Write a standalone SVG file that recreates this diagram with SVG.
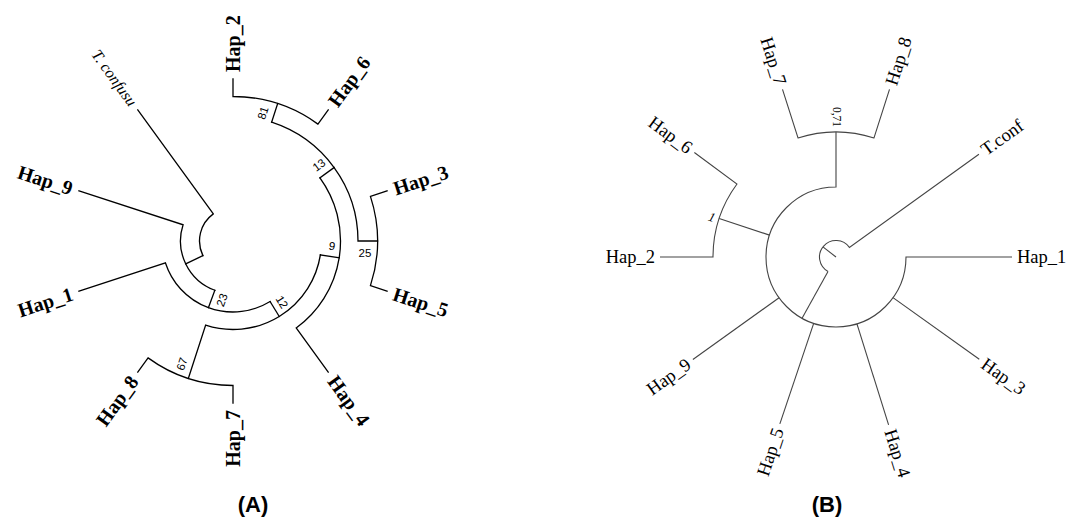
<svg xmlns="http://www.w3.org/2000/svg" width="1068" height="519" viewBox="0 0 1068 519">
<style>
.ea{fill:none;stroke:#000;stroke-width:1.3;stroke-linecap:square}
.eb{fill:none;stroke:#444;stroke-width:1.1}
.la{font-family:"Liberation Serif","Times New Roman",serif;font-weight:bold;font-size:20px;fill:#000}
.it{font-family:"Liberation Serif","Times New Roman",serif;font-style:italic;font-size:16px;fill:#000}
.na{font-family:"Liberation Sans",Arial,sans-serif;font-size:11.5px;fill:#000}
.lb{font-family:"Liberation Serif","Times New Roman",serif;font-size:18.5px;fill:#000}
.nb{font-family:"Liberation Serif","Times New Roman",serif;font-size:11.5px;fill:#000}
.cap{font-family:"Liberation Sans",Arial,sans-serif;font-weight:bold;font-size:22px;fill:#000;text-anchor:middle}
</style>
<rect width="1068" height="519" fill="#fff"/>
<g id="connectors-A" class="ea">
<path d="M202.86,255.62 A33.5,33.5 0 0 1 213.31,213.90 L137.78,109.94"/>
<path d="M202.86,255.62 L185.77,263.92"/>
<path d="M214.83,290.26 A52.5,52.5 0 0 1 183.07,224.78 L78.92,190.94"/>
<path d="M214.83,290.26 L208.43,307.61"/>
<path d="M270.10,301.53 A71,71 0 0 1 165.47,262.94 L78.92,291.06"/>
<path d="M270.10,301.53 L279.24,316.46"/>
<path d="M320.41,254.84 A88.5,88.5 0 0 1 205.65,325.17 L188.35,378.43"/>
<path d="M233,403 L233,385.5 A144.5,144.5 0 0 1 148.06,357.90 L137.78,372.06"/>
<path d="M320.41,254.84 L339.18,257.82"/>
<path d="M319.97,177.81 A107.5,107.5 0 0 1 296.19,327.97 L328.22,372.06"/>
<path d="M319.97,177.81 L334.13,167.52"/>
<path d="M271.63,122.11 A125,125 0 0 1 358,241 L377.5,241"/>
<path d="M271.63,122.11 L277.65,103.57"/>
<path d="M233,79 L233,96.5 A144.5,144.5 0 0 1 317.94,124.10 L328.22,109.94"/>
<path d="M387.08,190.94 L370.43,196.35 A144.5,144.5 0 0 1 370.43,285.65 L387.08,291.06"/>
</g>
<g id="tips-A">
<g id="A-Tconfusu"><text class="it" text-anchor="end" dy="0.35em" transform="translate(133.66,104.28) rotate(54)">T. confusu</text></g>
<g id="A-Hap_9"><text class="la" text-anchor="end" dy="0.35em" transform="translate(72.27,188.78) rotate(18)">Hap_9</text></g>
<g id="A-Hap_1"><text class="la" text-anchor="end" dy="0.35em" transform="translate(72.27,293.22) rotate(-18)">Hap_1</text></g>
<g id="A-Hap_8"><text class="la" text-anchor="end" dy="0.35em" transform="translate(133.66,377.72) rotate(-54)">Hap_8</text></g>
<g id="A-Hap_7"><text class="la" text-anchor="end" dy="0.35em" transform="translate(233,410) rotate(-90)">Hap_7</text></g>
<g id="A-Hap_4"><text class="la" dy="0.35em" transform="translate(332.34,377.72) rotate(54)">Hap_4</text></g>
<g id="A-Hap_5"><text class="la" dy="0.35em" transform="translate(393.73,293.22) rotate(18)">Hap_5</text></g>
<g id="A-Hap_3"><text class="la" dy="0.35em" transform="translate(393.73,188.78) rotate(-18)">Hap_3</text></g>
<g id="A-Hap_6"><text class="la" dy="0.35em" transform="translate(332.34,104.28) rotate(-54)">Hap_6</text></g>
<g id="A-Hap_2"><text class="la" dy="0.35em" transform="translate(233,72) rotate(-90)">Hap_2</text></g>
</g>
<g id="support-A" class="na" text-anchor="middle">
<g id="A-n81"><text dy="0.35em" transform="translate(263,113) rotate(-72)">81</text></g>
<g id="A-n13"><text dy="0.35em" transform="translate(319,165) rotate(-36)">13</text></g>
<g id="A-n9"><text dy="0.35em" transform="translate(332,246) rotate(9)">9</text></g>
<g id="A-n25"><text dy="0.35em" transform="translate(365,253)">25</text></g>
<g id="A-n12"><text dy="0.35em" transform="translate(282,302) rotate(58.5)">12</text></g>
<g id="A-n23"><text dy="0.35em" transform="translate(222,300) rotate(-70)">23</text></g>
<g id="A-n67"><text dy="0.35em" transform="translate(182,364) rotate(-72)">67</text></g>
</g>
<text class="cap" x="253" y="512">(A)</text>
<g id="connectors-B" class="eb">
<path d="M828.00,271.43 A16.5,16.5 0 1 1 849.40,247.37 L978.93,154.30"/>
<path d="M822.93,246.93 L836,257"/>
<path d="M828.00,271.43 L802.06,318.22"/>
<path d="M1012,257 L906,257 A70,70 0 1 1 836,187 L836,132"/>
<path d="M892.99,297.65 L979.28,359.20"/>
<path d="M856.93,323.79 L888.62,424.94"/>
<path d="M813.67,323.35 L779.86,423.81"/>
<path d="M779.08,297.75 L692.89,359.45"/>
<path d="M769.5,235.14 L719.15,218.59"/>
<path d="M660,257 L713,257 A123,123 0 0 1 736.99,184.01 L694.34,152.56"/>
<path d="M782.50,89.32 L798.0,137.91 A125,125 0 0 1 874.0,137.91 L889.50,89.32"/>
</g>
<g id="tips-B" class="lb">
<g id="B-Tconf"><text dy="0.33em" transform="translate(982.99,151.39) rotate(-35.7)">T.conf</text></g>
<g id="B-Hap_1"><text dy="0.33em" transform="translate(1017,257)">Hap_1</text></g>
<g id="B-Hap_3"><text dy="0.33em" transform="translate(983.35,362.11) rotate(35.5)">Hap_3</text></g>
<g id="B-Hap_4"><text dy="0.33em" transform="translate(890.12,429.71) rotate(72.6)">Hap_4</text></g>
<g id="B-Hap_5"><text text-anchor="end" dy="0.33em" transform="translate(778.26,428.55) rotate(-71.4)">Hap_5</text></g>
<g id="B-Hap_9"><text text-anchor="end" dy="0.33em" transform="translate(688.83,362.36) rotate(-35.6)">Hap_9</text></g>
<g id="B-Hap_2"><text text-anchor="end" dy="0.33em" transform="translate(655,257)">Hap_2</text></g>
<g id="B-Hap_6"><text text-anchor="end" dy="0.33em" transform="translate(690.31,149.59) rotate(36.4)">Hap_6</text></g>
<g id="B-Hap_7"><text text-anchor="end" dy="0.33em" transform="translate(780.98,84.56) rotate(72.3)">Hap_7</text></g>
<g id="B-Hap_8"><text dy="0.33em" transform="translate(891.02,84.56) rotate(-72.3)">Hap_8</text></g>
</g>
<g id="support-B" class="nb" text-anchor="middle">
<g id="B-n1"><text font-style="italic" font-size="13" dy="0.35em" transform="translate(712,217) rotate(18)">1</text></g>
<g id="B-n071"><text dy="0.35em" transform="translate(837,117) rotate(90)">0,71</text></g>
</g>
<text class="cap" x="827" y="512">(B)</text>
</svg>
